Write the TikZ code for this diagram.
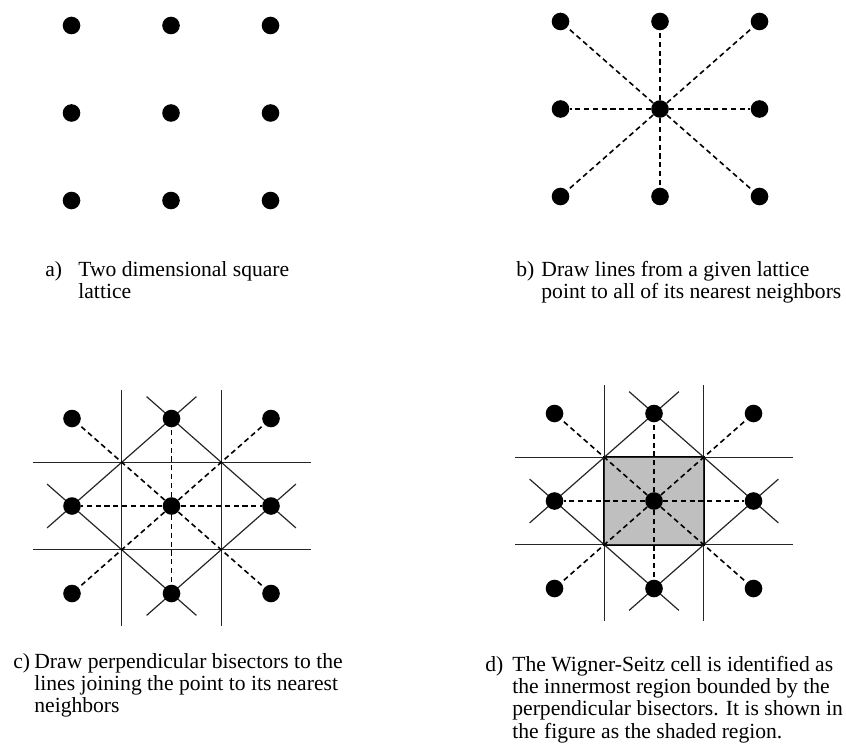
\documentclass[tikz,border=0pt]{standalone}
\usepackage{fontspec}
\setmainfont{Liberation Serif}
\usetikzlibrary{calc, backgrounds}

\begin{document}
\begin{tikzpicture}[
  x=0.5pt, y=-0.5pt,
  dot/.style={circle, fill=black, inner sep=0pt, minimum size=8.8pt},
  nn/.style={dash pattern=on 2.6pt off 1.8pt, line width=0.8pt},
  bis/.style={line width=0.6pt, black!85},
  lbl/.style={anchor=base west, inner sep=0pt, font=\fontsize{10.8}{11.2}\selectfont},
  captxt/.style={lbl, align=left}
]
\useasboundingbox (0,0) rectangle (846,749);

% lattice points of the four panels
\foreach \p/\cx/\cy in {a/171/113, b/660/109, c/171.5/506, d/654/501}
  \foreach \i in {0,1,2}
    \foreach \j in {0,1,2}
      \node[dot] (\p\i\j) at ({\cx+(\i-1)*99.5}, {\cy+(\j-1)*87.5}) {};

% b) lines to the nearest neighbours
\foreach \n in {00,10,20,01,21,02,12,22}
  \draw[nn] (b11) -- (b\n);

% c), d) lines to the neighbours
\foreach \p in {c,d}
  \foreach \n in {00,10,20,01,21,02,12,22}
    \draw[nn] (\p11) -- (\p\n);

\begin{scope}[on background layer]
  % d) Wigner-Seitz cell
  \filldraw[fill=gray!50, draw=black, line width=1.1pt]
    ($(d11)!0.5!(d00)$) rectangle ($(d11)!0.5!(d22)$);
  % c), d) perpendicular bisectors
  \foreach \p in {c,d} {
    \foreach \u/\v in {01/10, 10/21, 21/12, 12/01}
      \draw[bis] ($(\p\u)!-0.25!(\p\v)$) -- ($(\p\v)!-0.25!(\p\u)$);
    \foreach \n in {10,12}
      \draw[bis] ($(\p11)!0.5!(\p\n)+(-139,0)$) -- ++(278,0);
    \foreach \n in {01,21}
      \draw[bis] ($(\p11)!0.5!(\p\n)+(0,-116)$) -- ++(0,236);
  }
\end{scope}

% captions (base of a caption node = baseline of its last line)
\node[lbl] (tag-a) at (45,276) {a)};
\node[captxt] (cap-a) at (78,298.4) {Two dimensional square\\lattice};
\node[lbl] (tag-b) at (516,276) {b)};
\node[captxt] (cap-b) at (541,298.4) {Draw lines from a given lattice\\point to all of its nearest neighbors};
\node[lbl] (tag-c) at (13,668) {c)};
\node[captxt] (cap-c) at (34,712.8) {Draw perpendicular bisectors to the\\lines joining the point to its nearest\\neighbors};
\node[lbl] (tag-d) at (485,671) {d)};
\node[captxt] (cap-d) at (512,738.2) {The Wigner-Seitz cell is identified as\\the innermost region bounded by the\\perpendicular bisectors. It is shown in\\the figure as the shaded region.};
\end{tikzpicture}
\end{document}
